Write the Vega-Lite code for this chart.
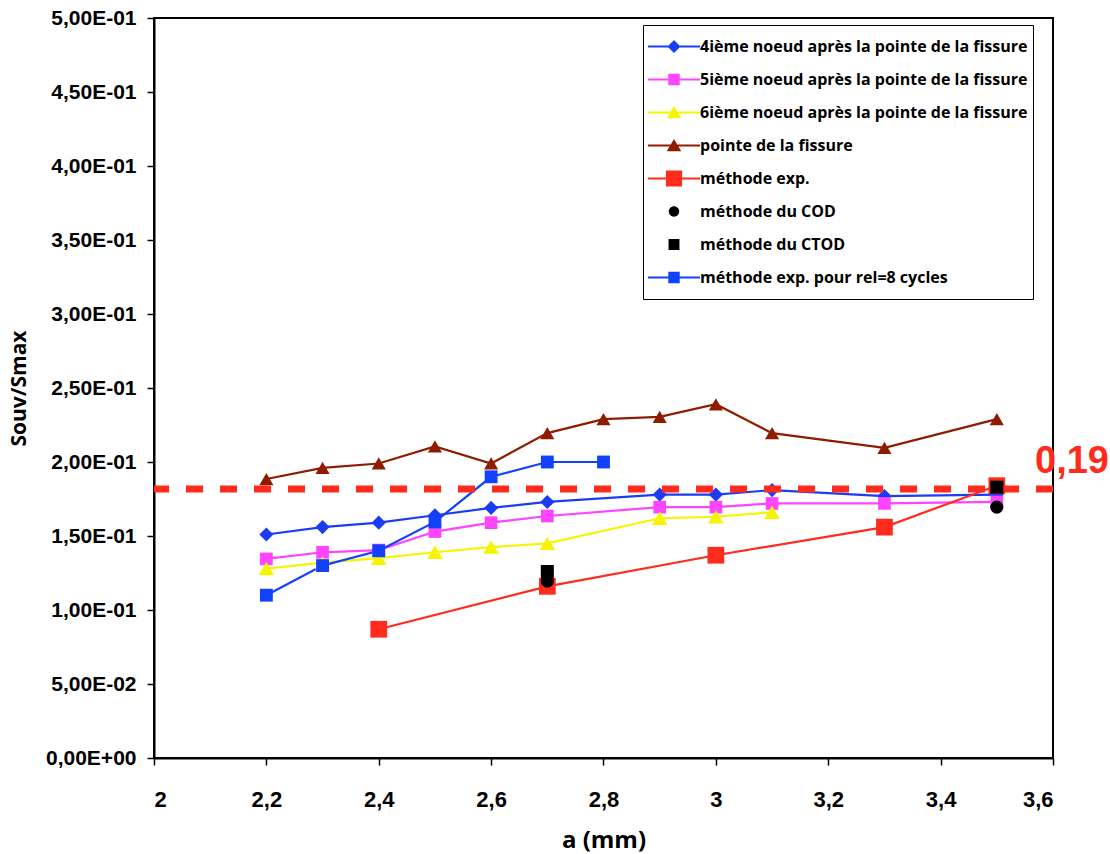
{
  "$schema": "https://vega.github.io/schema/vega-lite/v6.json",
  "autosize": {"type": "none"},
  "padding": {"left": 154, "top": 18, "right": 57, "bottom": 96},
  "width": 899,
  "height": 740,
  "background": "white",
  "config": {
    "view": {"stroke": "black", "strokeWidth": 2},
    "axis": {"domainColor": "black", "domainWidth": 2, "tickColor": "black", "tickWidth": 1.5, "tickSize": 7, "grid": false, "labelFont": "Liberation Sans", "labelFontWeight": "bold", "labelColor": "black", "titleFont": "Open Sans", "titleFontWeight": "bold", "titleColor": "black"}
  },
  "data": {"values": [
    {"serie": "4ième noeud après la pointe de la fissure", "a": 2.2, "v": 0.151},
    {"serie": "4ième noeud après la pointe de la fissure", "a": 2.3, "v": 0.156},
    {"serie": "4ième noeud après la pointe de la fissure", "a": 2.4, "v": 0.159},
    {"serie": "4ième noeud après la pointe de la fissure", "a": 2.5, "v": 0.164},
    {"serie": "4ième noeud après la pointe de la fissure", "a": 2.6, "v": 0.169},
    {"serie": "4ième noeud après la pointe de la fissure", "a": 2.7, "v": 0.173},
    {"serie": "4ième noeud après la pointe de la fissure", "a": 2.9, "v": 0.178},
    {"serie": "4ième noeud après la pointe de la fissure", "a": 3.0, "v": 0.178},
    {"serie": "4ième noeud après la pointe de la fissure", "a": 3.1, "v": 0.181},
    {"serie": "4ième noeud après la pointe de la fissure", "a": 3.3, "v": 0.177},
    {"serie": "4ième noeud après la pointe de la fissure", "a": 3.5, "v": 0.178},
    {"serie": "5ième noeud après la pointe de la fissure", "a": 2.2, "v": 0.1345},
    {"serie": "5ième noeud après la pointe de la fissure", "a": 2.3, "v": 0.139},
    {"serie": "5ième noeud après la pointe de la fissure", "a": 2.4, "v": 0.1405},
    {"serie": "5ième noeud après la pointe de la fissure", "a": 2.5, "v": 0.153},
    {"serie": "5ième noeud après la pointe de la fissure", "a": 2.6, "v": 0.159},
    {"serie": "5ième noeud après la pointe de la fissure", "a": 2.7, "v": 0.1635},
    {"serie": "5ième noeud après la pointe de la fissure", "a": 2.9, "v": 0.1695},
    {"serie": "5ième noeud après la pointe de la fissure", "a": 3.0, "v": 0.1695},
    {"serie": "5ième noeud après la pointe de la fissure", "a": 3.1, "v": 0.172},
    {"serie": "5ième noeud après la pointe de la fissure", "a": 3.3, "v": 0.172},
    {"serie": "5ième noeud après la pointe de la fissure", "a": 3.5, "v": 0.173},
    {"serie": "6ième noeud après la pointe de la fissure", "a": 2.2, "v": 0.128},
    {"serie": "6ième noeud après la pointe de la fissure", "a": 2.3, "v": 0.132},
    {"serie": "6ième noeud après la pointe de la fissure", "a": 2.4, "v": 0.135},
    {"serie": "6ième noeud après la pointe de la fissure", "a": 2.5, "v": 0.139},
    {"serie": "6ième noeud après la pointe de la fissure", "a": 2.6, "v": 0.1425},
    {"serie": "6ième noeud après la pointe de la fissure", "a": 2.7, "v": 0.145},
    {"serie": "6ième noeud après la pointe de la fissure", "a": 2.9, "v": 0.162},
    {"serie": "6ième noeud après la pointe de la fissure", "a": 3.0, "v": 0.163},
    {"serie": "6ième noeud après la pointe de la fissure", "a": 3.1, "v": 0.166},
    {"serie": "pointe de la fissure", "a": 2.2, "v": 0.1885},
    {"serie": "pointe de la fissure", "a": 2.3, "v": 0.196},
    {"serie": "pointe de la fissure", "a": 2.4, "v": 0.199},
    {"serie": "pointe de la fissure", "a": 2.5, "v": 0.2105},
    {"serie": "pointe de la fissure", "a": 2.6, "v": 0.199},
    {"serie": "pointe de la fissure", "a": 2.7, "v": 0.2195},
    {"serie": "pointe de la fissure", "a": 2.8, "v": 0.229},
    {"serie": "pointe de la fissure", "a": 2.9, "v": 0.2305},
    {"serie": "pointe de la fissure", "a": 3.0, "v": 0.239},
    {"serie": "pointe de la fissure", "a": 3.1, "v": 0.2195},
    {"serie": "pointe de la fissure", "a": 3.3, "v": 0.2095},
    {"serie": "pointe de la fissure", "a": 3.5, "v": 0.229},
    {"serie": "méthode exp.", "a": 2.4, "v": 0.087},
    {"serie": "méthode exp.", "a": 2.7, "v": 0.116},
    {"serie": "méthode exp.", "a": 3.0, "v": 0.137},
    {"serie": "méthode exp.", "a": 3.3, "v": 0.156},
    {"serie": "méthode exp.", "a": 3.5, "v": 0.184},
    {"serie": "méthode du COD", "a": 2.7, "v": 0.1195},
    {"serie": "méthode du COD", "a": 3.5, "v": 0.1695},
    {"serie": "méthode du CTOD", "a": 2.7, "v": 0.126},
    {"serie": "méthode du CTOD", "a": 3.5, "v": 0.183},
    {"serie": "méthode exp. pour rel=8 cycles", "a": 2.2, "v": 0.110},
    {"serie": "méthode exp. pour rel=8 cycles", "a": 2.3, "v": 0.130},
    {"serie": "méthode exp. pour rel=8 cycles", "a": 2.4, "v": 0.140},
    {"serie": "méthode exp. pour rel=8 cycles", "a": 2.5, "v": 0.1595},
    {"serie": "méthode exp. pour rel=8 cycles", "a": 2.6, "v": 0.190},
    {"serie": "méthode exp. pour rel=8 cycles", "a": 2.7, "v": 0.200},
    {"serie": "méthode exp. pour rel=8 cycles", "a": 2.8, "v": 0.200}
  ]},
  "encoding": {
    "x": {"field": "a", "type": "quantitative", "scale": {"domain": [2, 3.6], "nice": false, "zero": false},
      "axis": {"title": "a (mm)", "values": [2, 2.2, 2.4, 2.6, 2.8, 3, 3.2, 3.4, 3.6], "labelExpr": "replace(format(datum.value, '.1~f'), '.', ',')", "labelFontSize": 22, "labelPadding": 24, "titleFontSize": 24, "titlePadding": 18}},
    "y": {"field": "v", "type": "quantitative", "scale": {"domain": [0, 0.5], "nice": false},
      "axis": {"title": "Souv/Smax", "values": [0, 0.05, 0.1, 0.15, 0.2, 0.25, 0.3, 0.35, 0.4, 0.45, 0.5], "labelExpr": "datum.value < 0.001 ? '0,00E+00' : (datum.value < 0.099 ? replace(format(datum.value * 100, '.2f'), '.', ',') + 'E-02' : replace(format(datum.value * 10, '.2f'), '.', ',') + 'E-01')", "labelFontSize": 21, "labelPadding": 11, "titleFontSize": 21, "titlePadding": 16}},
    "color": {"field": "serie", "type": "nominal", "legend": null,
      "scale": {"domain": ["4ième noeud après la pointe de la fissure", "5ième noeud après la pointe de la fissure", "6ième noeud après la pointe de la fissure", "pointe de la fissure", "méthode exp.", "méthode du COD", "méthode du CTOD", "méthode exp. pour rel=8 cycles", "_"],
        "range": ["#1a3cf5", "#ff44ff", "#f5f500", "#8f1c00", "#ff2b1c", "#000000", "#000000", "#1240ff", "#ffffff"]}}
  },
  "layer": [
    {"transform": [{"filter": "datum.serie != 'méthode du COD' && datum.serie != 'méthode du CTOD'"}],
     "mark": {"type": "line", "strokeWidth": 2.2}},
    {"transform": [{"filter": "datum.serie == '4ième noeud après la pointe de la fissure'"}],
     "mark": {"type": "point", "shape": "diamond", "filled": true, "opacity": 1, "size": 200}},
    {"transform": [{"filter": "datum.serie == '5ième noeud après la pointe de la fissure'"}],
     "mark": {"type": "point", "shape": "square", "filled": true, "opacity": 1, "size": 160}},
    {"transform": [{"filter": "datum.serie == '6ième noeud après la pointe de la fissure'"}],
     "mark": {"type": "point", "shape": "triangle-up", "filled": true, "opacity": 1, "size": 240}},
    {"transform": [{"filter": "datum.serie == 'pointe de la fissure'"}],
     "mark": {"type": "point", "shape": "triangle-up", "filled": true, "opacity": 1, "size": 200, "color": "#a02e00"}},
    {"transform": [{"filter": "datum.serie == 'méthode exp.'"}],
     "mark": {"type": "point", "shape": "square", "filled": true, "opacity": 1, "size": 280}},
    {"data": {"values": [{"v": 0.1818}]},
     "mark": {"type": "rule", "color": "#ff2b1c", "strokeWidth": 7, "strokeDash": [17, 17]},
     "encoding": {"y": {"field": "v", "type": "quantitative"}, "x": null, "color": null}},
    {"transform": [{"filter": "datum.serie == 'méthode du COD'"}],
     "mark": {"type": "point", "shape": "circle", "filled": true, "opacity": 1, "size": 170}},
    {"transform": [{"filter": "datum.serie == 'méthode du CTOD'"}],
     "mark": {"type": "point", "shape": "square", "filled": true, "opacity": 1, "size": 170}},
    {"transform": [{"filter": "datum.serie == 'méthode exp. pour rel=8 cycles'"}],
     "mark": {"type": "point", "shape": "square", "filled": true, "opacity": 1, "size": 165}},
    {"data": {"values": [{"a": 3.6, "v": 0.1926, "t": "0,19"}]},
     "mark": {"type": "text", "align": "left", "baseline": "alphabetic", "dx": -18, "font": "Liberation Sans", "fontWeight": "bold", "fontSize": 38, "color": "#ff2b1c"},
     "encoding": {"text": {"field": "t"}, "color": null}},
    {"mark": {"type": "point", "opacity": 0},
     "encoding": {
       "color": null,
       "fill": {"field": "serie", "type": "nominal",
         "scale": {"domain": ["4ième noeud après la pointe de la fissure", "5ième noeud après la pointe de la fissure", "6ième noeud après la pointe de la fissure", "pointe de la fissure", "méthode exp.", "méthode du COD", "méthode du CTOD", "méthode exp. pour rel=8 cycles"],
           "range": ["#1a3cf5", "#ff44ff", "#f5f500", "#8f1c00", "#ff2b1c", "#000000", "#000000", "#1240ff"]},
         "legend": {"title": null, "orient": "none", "legendX": 489, "legendY": 7, "padding": 5, "strokeColor": "black", "fillColor": "white", "symbolSize": 2704, "clipHeight": 33, "rowPadding": 0, "labelOffset": 0, "labelFont": "Open Sans", "labelFontWeight": "bold", "labelFontSize": 16, "labelColor": "black", "symbolStrokeWidth": 0, "symbolOpacity": 1, "labelLimit": 0,
           "encode": {"legend": {"strokeWidth": {"value": 2}}}}},
       "shape": {"field": "serie", "type": "nominal",
         "scale": {"domain": ["4ième noeud après la pointe de la fissure", "5ième noeud après la pointe de la fissure", "6ième noeud après la pointe de la fissure", "pointe de la fissure", "méthode exp.", "méthode du COD", "méthode du CTOD", "méthode exp. pour rel=8 cycles"],
           "range": [
             "M-1,-0.04H1V0.04H-1ZM0,-0.25L0.25,0L0,0.25L-0.25,0Z",
             "M-1,-0.04H1V0.04H-1ZM-0.22,-0.22H0.22V0.22H-0.22Z",
             "M-1,-0.04H1V0.04H-1ZM0,-0.25L0.28,0.22L-0.28,0.22Z",
             "M-1,-0.04H1V0.04H-1ZM0,-0.25L0.28,0.22L-0.28,0.22Z",
             "M-1,-0.04H1V0.04H-1ZM-0.31,-0.31H0.31V0.31H-0.31Z",
             "M0.2,0A0.2,0.2,0,1,1,-0.2,0A0.2,0.2,0,1,1,0.2,0Z",
             "M-0.21,-0.21H0.21V0.21H-0.21Z",
             "M-1,-0.04H1V0.04H-1ZM-0.22,-0.22H0.22V0.22H-0.22Z"
           ]},
         "legend": {"title": null, "orient": "none", "legendX": 489, "legendY": 7, "padding": 5, "strokeColor": "black", "fillColor": "white", "symbolSize": 2704, "clipHeight": 33, "rowPadding": 0, "labelOffset": 0, "labelFont": "Open Sans", "labelFontWeight": "bold", "labelFontSize": 16, "labelColor": "black", "symbolStrokeWidth": 0, "symbolOpacity": 1, "labelLimit": 0,
           "encode": {"legend": {"strokeWidth": {"value": 2}}}}}
     }}
  ]
}
